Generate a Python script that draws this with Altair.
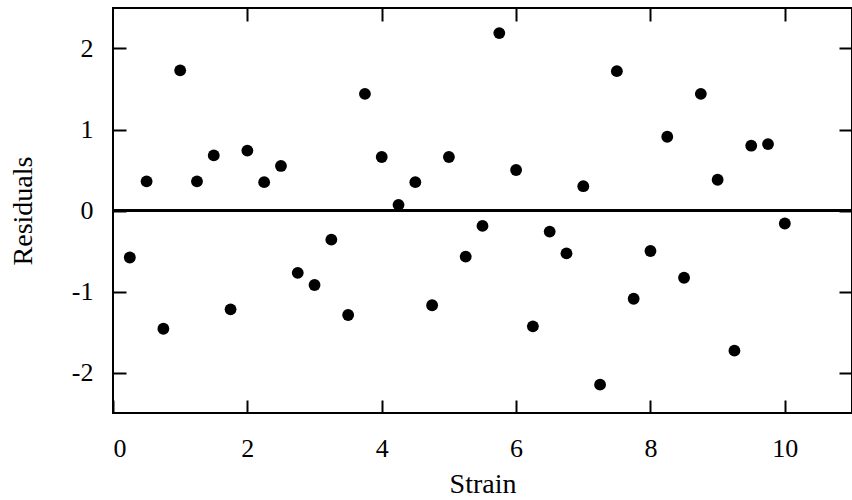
import altair as alt
import pandas as pd

strain = [0.25, 0.5, 0.75, 1.0, 1.25, 1.5, 1.75, 2.0, 2.25, 2.5,
          2.75, 3.0, 3.25, 3.5, 3.75, 4.0, 4.25, 4.5, 4.75, 5.0,
          5.25, 5.5, 5.75, 6.0, 6.25, 6.5, 6.75, 7.0, 7.25, 7.5,
          7.75, 8.0, 8.25, 8.5, 8.75, 9.0, 9.25, 9.5, 9.75, 10.0]
residuals = [-0.58, 0.36, -1.46, 1.73, 0.36, 0.68, -1.22, 0.74, 0.35, 0.55,
             -0.77, -0.92, -0.36, -1.29, 1.44, 0.66, 0.07, 0.35, -1.17, 0.66,
             -0.57, -0.19, 2.19, 0.50, -1.43, -0.26, -0.53, 0.30, -2.15, 1.72,
             -1.09, -0.50, 0.91, -0.83, 1.44, 0.38, -1.73, 0.80, 0.82, -0.16]
x_ticks = [0, 2, 4, 6, 8, 10]
y_ticks = [-2, -1, 0, 1, 2]

df = pd.DataFrame({"Strain": strain, "Residuals": residuals})

FONT = "Liberation Serif"
TICK = 13

x_scale = alt.Scale(domain=[0, 11], nice=False, zero=False)
y_scale = alt.Scale(domain=[-2.5, 2.5], nice=False, zero=False)

x_axis = alt.Axis(values=x_ticks, title="Strain", orient="bottom", offset=-TICK,
                  tickSize=TICK, labelPadding=22, titlePadding=9,
                  labelExpr="'' + datum.value")
y_axis = alt.Axis(values=y_ticks, title="Residuals", orient="left", offset=-TICK,
                  tickSize=TICK, labelPadding=20, titlePadding=34,
                  labelExpr="'' + datum.value")

points = alt.Chart(df).mark_circle(size=140, color="black", opacity=1).encode(
    x=alt.X("Strain:Q", scale=x_scale, axis=x_axis),
    y=alt.Y("Residuals:Q", scale=y_scale, axis=y_axis),
)

mirror = alt.Chart(df).mark_point(opacity=0).encode(
    x=alt.X("Strain:Q", scale=x_scale,
            axis=alt.Axis(values=[2, 4, 6, 8, 10], orient="top", offset=-TICK,
                          tickSize=TICK, labels=False, title=None)),
    y=alt.Y("Residuals:Q", scale=y_scale,
            axis=alt.Axis(values=y_ticks, orient="right", offset=-TICK,
                          tickSize=TICK, labels=False, title=None)),
)

zero = alt.Chart(df).mark_rule(color="black", strokeWidth=2).encode(
    y=alt.datum(0, scale=y_scale, axis=None)
)

chart = alt.layer(zero, mirror, points).properties(
    width=739, height=405,
    background="white",
    autosize=alt.AutoSizeParams(type="none"),
    padding={"left": 113, "top": 8, "right": 0, "bottom": 87},
).configure_view(
    stroke="black", strokeWidth=2
).configure_axis(
    domain=False, grid=False, tickColor="black", tickWidth=2,
    labelFont=FONT, labelFontSize=26, labelColor="black",
    titleFont=FONT, titleFontSize=28, titleFontWeight="normal", titleColor="black",
)

chart.save("out.html", embed_options={"renderer": "svg", "actions": False})
